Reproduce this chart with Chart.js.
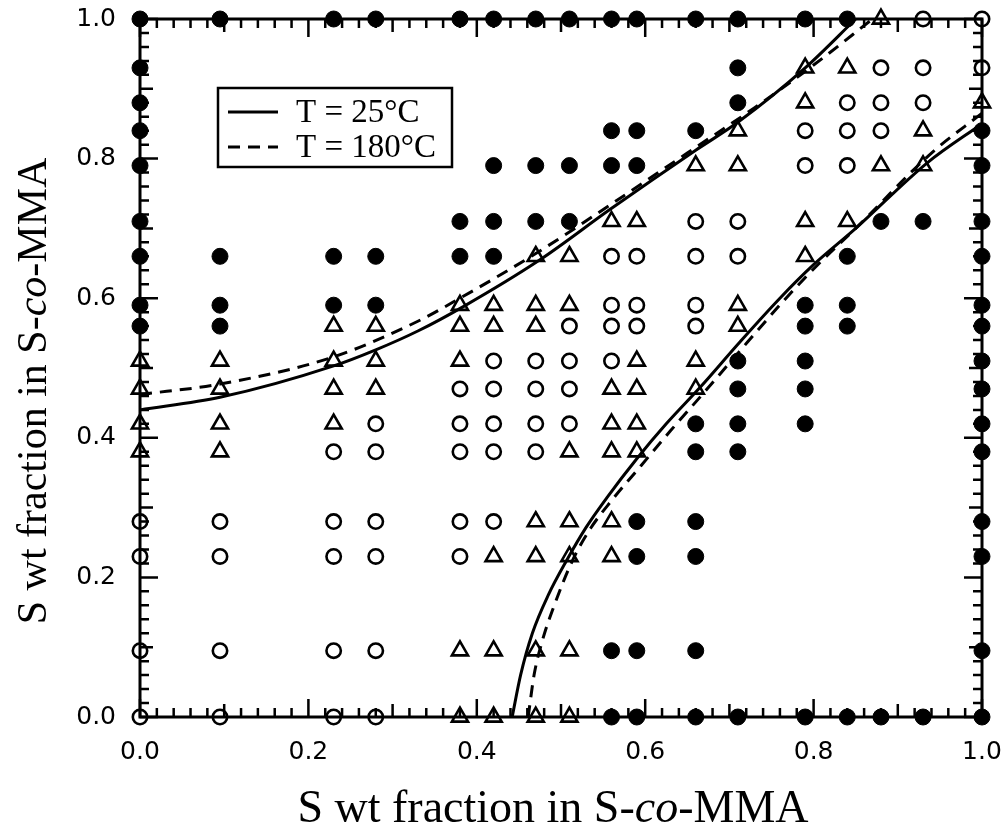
<!DOCTYPE html>
<html>
<head>
<meta charset="utf-8">
<script src="https://cdn.jsdelivr.net/npm/chart.js@4.4.1/dist/chart.umd.min.js"></script>
<style>
  body { margin: 0; background: #fff; }
  canvas { display: block; }
</style>
</head>
<body>
<canvas id="phaseChart" width="1008" height="827"></canvas>
<script>
// blend compositions (x = S wt fraction in blend component 1, y = in component 2)
const filledPts = [
    [0, 1], [0.095, 1], [0.23, 1], [0.28, 1], [0.38, 1], [0.42, 1], [0.47, 1], [0.51, 1],
    [0.56, 1], [0.59, 1], [0.66, 1], [0.71, 1], [0.79, 1], [0.84, 1],
    [0, 0.93], [0, 0.88], [0, 0.84], [0, 0.79], [0, 0.71], [0, 0.66], [0, 0.59], [0, 0.56],
    [1, 0.84], [1, 0.79], [1, 0.71], [1, 0.66], [1, 0.59], [1, 0.56], [1, 0.51], [1, 0.47],
    [1, 0.42], [1, 0.38], [1, 0.28], [1, 0.23], [1, 0.095], [1, 0],
    [0.56, 0], [0.59, 0], [0.66, 0], [0.71, 0], [0.79, 0], [0.84, 0], [0.88, 0], [0.93, 0],
    [0.56, 0.095], [0.59, 0.095], [0.66, 0.095],
    [0.59, 0.23], [0.66, 0.23],
    [0.59, 0.28], [0.66, 0.28],
    [0.66, 0.38], [0.71, 0.38],
    [0.66, 0.42], [0.71, 0.42], [0.79, 0.42],
    [0.71, 0.47], [0.79, 0.47],
    [0.71, 0.51], [0.79, 0.51],
    [0.095, 0.56], [0.79, 0.56], [0.84, 0.56],
    [0.095, 0.59], [0.23, 0.59], [0.28, 0.59], [0.79, 0.59], [0.84, 0.59],
    [0.095, 0.66], [0.23, 0.66], [0.28, 0.66], [0.38, 0.66], [0.42, 0.66], [0.84, 0.66],
    [0.38, 0.71], [0.42, 0.71], [0.47, 0.71], [0.51, 0.71], [0.88, 0.71], [0.93, 0.71],
    [0.42, 0.79], [0.47, 0.79], [0.51, 0.79], [0.56, 0.79], [0.59, 0.79],
    [0.56, 0.84], [0.59, 0.84], [0.66, 0.84],
    [0.71, 0.88], [0.71, 0.93]
];

const openPts = [
    [0.93, 1], [1, 1], [1, 0.93],
    [0, 0.28], [0, 0.23], [0, 0.095], [0, 0],
    [0.095, 0], [0.23, 0], [0.28, 0],
    [0.095, 0.095], [0.23, 0.095], [0.28, 0.095],
    [0.095, 0.23], [0.23, 0.23], [0.28, 0.23], [0.38, 0.23],
    [0.095, 0.28], [0.23, 0.28], [0.28, 0.28], [0.38, 0.28], [0.42, 0.28],
    [0.23, 0.38], [0.28, 0.38], [0.38, 0.38], [0.42, 0.38], [0.47, 0.38],
    [0.28, 0.42], [0.38, 0.42], [0.42, 0.42], [0.47, 0.42], [0.51, 0.42],
    [0.38, 0.47], [0.42, 0.47], [0.47, 0.47], [0.51, 0.47],
    [0.42, 0.51], [0.47, 0.51], [0.51, 0.51], [0.56, 0.51],
    [0.51, 0.56], [0.56, 0.56], [0.59, 0.56], [0.66, 0.56],
    [0.56, 0.59], [0.59, 0.59], [0.66, 0.59],
    [0.56, 0.66], [0.59, 0.66], [0.66, 0.66], [0.71, 0.66],
    [0.66, 0.71], [0.71, 0.71],
    [0.79, 0.79], [0.84, 0.79],
    [0.79, 0.84], [0.84, 0.84], [0.88, 0.84],
    [0.84, 0.88], [0.88, 0.88], [0.93, 0.88],
    [0.88, 0.93], [0.93, 0.93]
];

const trianglePts = [
    [0.88, 1], [1, 0.88],
    [0, 0.51], [0, 0.47], [0, 0.42], [0, 0.38],
    [0.38, 0], [0.42, 0], [0.47, 0], [0.51, 0],
    [0.38, 0.095], [0.42, 0.095], [0.47, 0.095], [0.51, 0.095],
    [0.42, 0.23], [0.47, 0.23], [0.51, 0.23], [0.56, 0.23],
    [0.47, 0.28], [0.51, 0.28], [0.56, 0.28],
    [0.095, 0.38], [0.51, 0.38], [0.56, 0.38], [0.59, 0.38],
    [0.095, 0.42], [0.23, 0.42], [0.56, 0.42], [0.59, 0.42],
    [0.095, 0.47], [0.23, 0.47], [0.28, 0.47], [0.56, 0.47], [0.59, 0.47], [0.66, 0.47],
    [0.095, 0.51], [0.23, 0.51], [0.28, 0.51], [0.38, 0.51], [0.59, 0.51], [0.66, 0.51],
    [0.23, 0.56], [0.28, 0.56], [0.38, 0.56], [0.42, 0.56], [0.47, 0.56], [0.71, 0.56],
    [0.38, 0.59], [0.42, 0.59], [0.47, 0.59], [0.51, 0.59], [0.71, 0.59],
    [0.47, 0.66], [0.51, 0.66], [0.79, 0.66],
    [0.56, 0.71], [0.59, 0.71], [0.79, 0.71], [0.84, 0.71],
    [0.66, 0.79], [0.71, 0.79], [0.88, 0.79], [0.93, 0.79],
    [0.71, 0.84], [0.93, 0.84],
    [0.79, 0.88],
    [0.79, 0.93], [0.84, 0.93]
];

// calculated binodal curves
const upper25X = [0, 0.095, 0.23, 0.28, 0.33, 0.384, 0.475, 0.558, 0.66, 0.71, 0.79, 0.85];
const upper25Y = [0.44, 0.458, 0.503, 0.526, 0.553, 0.588, 0.655, 0.727, 0.812, 0.852, 0.93, 1.0];
const upper180X = [0, 0.095, 0.23, 0.33, 0.38, 0.47, 0.56, 0.65, 0.73, 0.80, 0.87];
const upper180Y = [0.462, 0.477, 0.516, 0.567, 0.60, 0.664, 0.735, 0.808, 0.873, 0.934, 1.0];
const lower25X = [0.442, 0.452, 0.466, 0.485, 0.507, 0.53, 0.555, 0.59, 0.625, 0.665, 0.713, 0.76, 0.80, 0.85, 0.935, 1.0];
const lower25Y = [0, 0.06, 0.12, 0.175, 0.225, 0.272, 0.315, 0.37, 0.42, 0.472, 0.538, 0.60, 0.648, 0.70, 0.794, 0.85];
const lower180X = [0.461, 0.468, 0.478, 0.492, 0.514, 0.535, 0.56, 0.595, 0.63, 0.67, 0.72, 0.765, 0.805, 0.85, 0.94, 1.0];
const lower180Y = [0, 0.06, 0.11, 0.16, 0.225, 0.27, 0.31, 0.36, 0.41, 0.465, 0.535, 0.597, 0.648, 0.70, 0.808, 0.865];

const tickValues = [0, 0.2, 0.4, 0.6, 0.8, 1.0];
const axisTitle = [['S wt fraction in S-', false], ['co', true], ['-MMA', false]];

const toXY = pts => pts.map(p => ({ x: p[0], y: p[1] }));
const zipXY = (xs, ys) => xs.map((x, i) => ({ x: x, y: ys[i] }));

function curve(label, xs, ys, dash) {
    return {
        label: label,
        data: zipXY(xs, ys),
        showLine: true,
        borderColor: '#000',
        borderWidth: 3,
        borderDash: dash,
        pointRadius: 0,
        cubicInterpolationMode: 'monotone',
        clip: false
    };
}

// inward ticks on all four sides + frame
const frameTicks = {
    id: 'frameTicks',
    beforeDatasetsDraw(chart) {
        const { ctx, chartArea: a, scales: { x, y } } = chart;
        ctx.save();
        ctx.strokeStyle = '#000';
        ctx.lineWidth = 2.5;
        for (let i = 0; i <= 50; i++) {
            const v = i / 50;
            const len = i % 10 === 0 ? 18 : (i % 5 === 0 ? 13 : 9);
            const px = x.getPixelForValue(v);
            const py = y.getPixelForValue(v);
            ctx.beginPath();
            ctx.moveTo(px, a.bottom); ctx.lineTo(px, a.bottom - len);
            ctx.moveTo(px, a.top); ctx.lineTo(px, a.top + len);
            ctx.moveTo(a.left, py); ctx.lineTo(a.left + len, py);
            ctx.moveTo(a.right, py); ctx.lineTo(a.right - len, py);
            ctx.stroke();
        }
        ctx.lineWidth = 3;
        ctx.strokeRect(a.left, a.top, a.right - a.left, a.bottom - a.top);
        ctx.restore();
    }
};

function drawMixed(ctx, size, cx, cy) {
    const fonts = axisTitle.map(s => (s[1] ? 'italic ' : '') + size + 'px "Liberation Serif", "Times New Roman", serif');
    let total = 0;
    const widths = axisTitle.map((s, i) => { ctx.font = fonts[i]; const w = ctx.measureText(s[0]).width; total += w; return w; });
    let pos = cx - total / 2;
    axisTitle.forEach((s, i) => {
        ctx.font = fonts[i];
        ctx.fillText(s[0], pos, cy);
        pos += widths[i];
    });
}

const titlesAndLegend = {
    id: 'titlesAndLegend',
    afterDraw(chart) {
        const { ctx, chartArea: a } = chart;
        ctx.save();
        ctx.fillStyle = '#000';
        ctx.textBaseline = 'alphabetic';
        ctx.textAlign = 'left';
        // x title
        drawMixed(ctx, 46, 553, 822);
        // y title
        ctx.save();
        ctx.translate(46, 391);
        ctx.rotate(-Math.PI / 2);
        drawMixed(ctx, 42, 0, 0);
        ctx.restore();

        // legend box
        const bx = a.left + 78, by = a.top + 69, bw = 234, bh = 79;
        ctx.fillStyle = '#fff';
        ctx.fillRect(bx, by, bw, bh);
        ctx.strokeStyle = '#000';
        ctx.lineWidth = 2.5;
        ctx.strokeRect(bx, by, bw, bh);
        const items = chart.data.datasets.filter(d => d.legendItem);
        items.forEach((d, i) => {
            const ly = by + 24 + i * 35;
            ctx.lineWidth = 3;
            ctx.setLineDash(d.borderDash || []);
            ctx.beginPath();
            ctx.moveTo(bx + 10, ly);
            ctx.lineTo(bx + 60, ly);
            ctx.stroke();
            ctx.setLineDash([]);
            ctx.fillStyle = '#000';
            ctx.font = '33px "Liberation Serif", "Times New Roman", serif';
            ctx.textBaseline = 'middle';
            ctx.fillText(d.label, bx + 78, ly + 1);
        });
        ctx.restore();
    }
};

const upper25 = curve('T = 25°C', upper25X, upper25Y, []);
upper25.legendItem = true;
const upper180 = curve('T = 180°C', upper180X, upper180Y, [12, 8]);
upper180.legendItem = true;

const tickFont = { family: '"DejaVu Sans", sans-serif', size: 25 };

const ctx = document.getElementById('phaseChart').getContext('2d');
new Chart(ctx, {
    type: 'scatter',
    data: {
        datasets: [
            upper25,
            upper180,
            curve('T = 25°C lower', lower25X, lower25Y, []),
            curve('T = 180°C lower', lower180X, lower180Y, [12, 8]),
            {
                label: 'two phase',
                data: toXY(filledPts),
                pointStyle: 'circle',
                pointRadius: 8,
                backgroundColor: '#000',
                borderColor: '#000',
                borderWidth: 1,
                clip: false
            },
            {
                label: 'one phase',
                data: toXY(openPts),
                pointStyle: 'circle',
                pointRadius: 7.2,
                backgroundColor: 'rgba(0,0,0,0)',
                borderColor: '#000',
                borderWidth: 2.6,
                clip: false
            },
            {
                label: 'intermediate',
                data: toXY(trianglePts),
                pointStyle: 'triangle',
                pointRadius: 9.3,
                backgroundColor: 'rgba(0,0,0,0)',
                borderColor: '#000',
                borderWidth: 2.6,
                clip: false
            }
        ]
    },
    options: {
        responsive: false,
        animation: false,
        devicePixelRatio: 1,
        layout: { padding: { top: 19, right: 26, left: 0, bottom: 0 } },
        plugins: {
            legend: { display: false },
            tooltip: { enabled: false }
        },
        scales: {
            x: {
                type: 'linear',
                min: 0,
                max: 1,
                afterFit: scale => {
                    scale.height = 110;
                    scale.paddingLeft = 0;
                    scale.paddingRight = 0;
                },
                afterBuildTicks: scale => { scale.ticks = tickValues.map(v => ({ value: v })); },
                grid: { display: false },
                border: { display: false },
                ticks: {
                    padding: 12,
                    color: '#000',
                    font: tickFont,
                    callback: v => v.toFixed(1)
                }
            },
            y: {
                type: 'linear',
                min: 0,
                max: 1,
                afterFit: scale => {
                    scale.width = 140;
                    scale.paddingTop = 0;
                    scale.paddingBottom = 0;
                },
                afterBuildTicks: scale => { scale.ticks = tickValues.map(v => ({ value: v })); },
                grid: { display: false },
                border: { display: false },
                ticks: {
                    padding: 16,
                    color: '#000',
                    font: tickFont,
                    callback: v => v.toFixed(1)
                }
            }
        }
    },
    plugins: [frameTicks, titlesAndLegend]
});
</script>
</body>
</html>
